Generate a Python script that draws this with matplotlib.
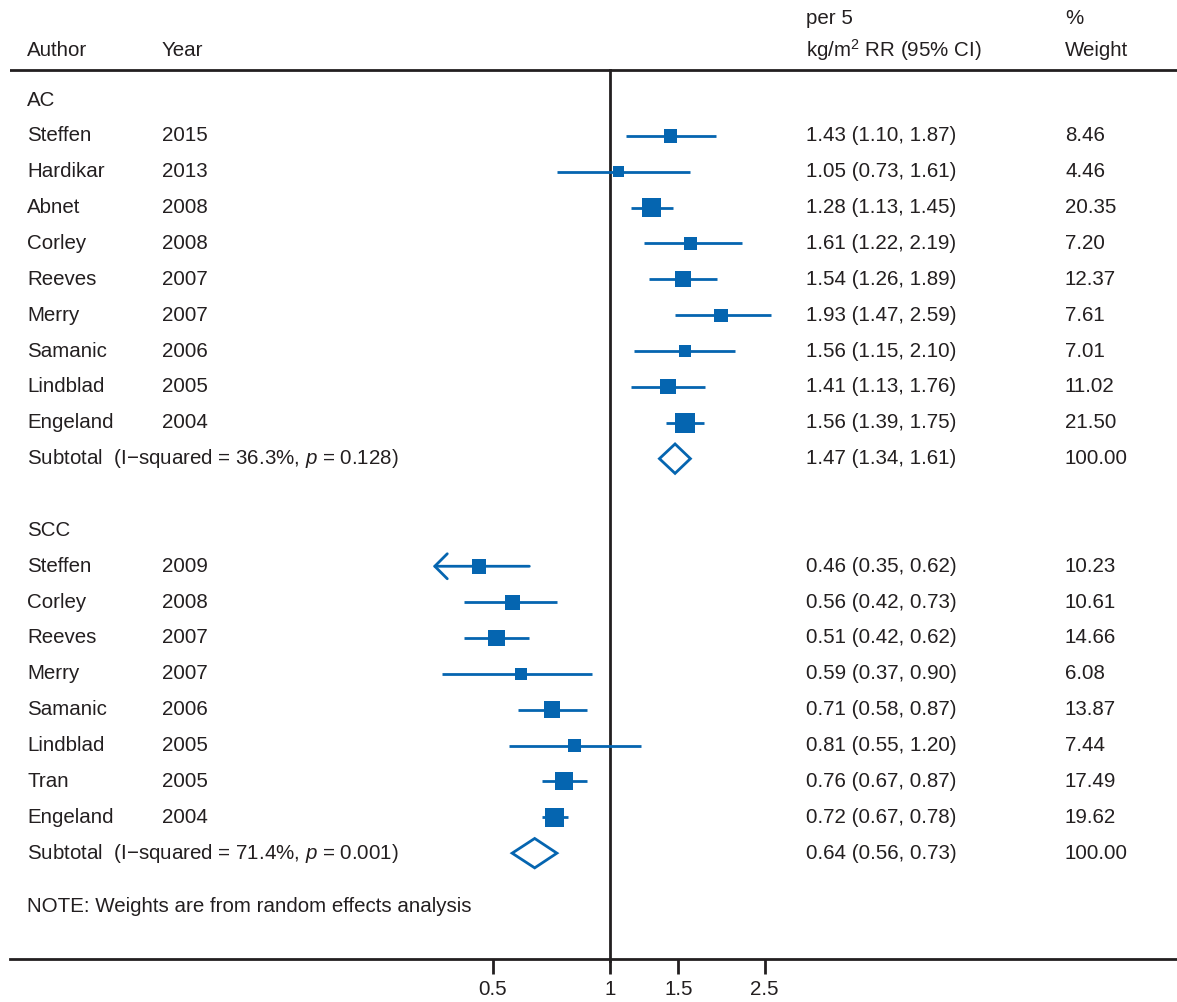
import numpy as np
import matplotlib
matplotlib.use('Agg')
import matplotlib.pyplot as plt
from matplotlib.ticker import NullLocator

plt.rcParams['font.family'] = ['Liberation Sans', 'DejaVu Sans']
plt.rcParams['mathtext.fontset'] = 'custom'
plt.rcParams['mathtext.it'] = 'Liberation Sans:italic'
plt.rcParams['mathtext.rm'] = 'Liberation Sans'

### Data
ac_author = ['Steffen', 'Hardikar', 'Abnet', 'Corley', 'Reeves', 'Merry', 'Samanic', 'Lindblad', 'Engeland']
ac_year = [2015, 2013, 2008, 2008, 2007, 2007, 2006, 2005, 2004]
ac_rr = [1.43, 1.05, 1.28, 1.61, 1.54, 1.93, 1.56, 1.41, 1.56]
ac_lo = [1.10, 0.73, 1.13, 1.22, 1.26, 1.47, 1.15, 1.13, 1.39]
ac_hi = [1.87, 1.61, 1.45, 2.19, 1.89, 2.59, 2.10, 1.76, 1.75]
ac_w = [8.46, 4.46, 20.35, 7.20, 12.37, 7.61, 7.01, 11.02, 21.50]
ac_sub = (1.47, 1.34, 1.61)
ac_het = ('36.3', '0.128')

scc_author = ['Steffen', 'Corley', 'Reeves', 'Merry', 'Samanic', 'Lindblad', 'Tran', 'Engeland']
scc_year = [2009, 2008, 2007, 2007, 2006, 2005, 2005, 2004]
scc_rr = [0.46, 0.56, 0.51, 0.59, 0.71, 0.81, 0.76, 0.72]
scc_lo = [0.35, 0.42, 0.42, 0.37, 0.58, 0.55, 0.67, 0.67]
scc_hi = [0.62, 0.73, 0.62, 0.90, 0.87, 1.20, 0.87, 0.78]
scc_w = [10.23, 10.61, 14.66, 6.08, 13.87, 7.44, 17.49, 19.62]
scc_sub = (0.64, 0.56, 0.73)
scc_het = ('71.4', '0.001')

ticks = [0.5, 1, 1.5, 2.5]
tick_labels = ['0.5', '1', '1.5', '2.5']
axis_min = 0.35  # studies below this get an arrow

blue = '#0565b0'
txt = '#231f20'
fs = 14.8

fig = plt.figure(figsize=(11.77, 10.02), dpi=100)
ax = fig.add_axes([10 / 1177, 0, 1167 / 1177, 1])
ax.set_xscale('log')
ax.set_xlim(0.02859, 28.76)
ax.set_ylim(25.15, -2.789)

# column positions in axes fraction
col_author = 17 / 1167
col_year = 152 / 1167
col_rr = 796 / 1167
col_w = 1055 / 1167
tr = ax.get_yaxis_transform()


def side_pt(w):
    return (3.15 + 3.58 * np.sqrt(w)) * 0.72


def draw_group(row0, name, authors, years, rr, lo, hi, w, sub, het):
    ax.text(col_author, row0, name, transform=tr, va='center', fontsize=fs, color=txt)
    for i in range(len(authors)):
        y = row0 + 1 + i
        ax.text(col_author, y, authors[i], transform=tr, va='center', fontsize=fs, color=txt)
        ax.text(col_year, y, str(years[i]), transform=tr, va='center', fontsize=fs, color=txt)
        ax.text(col_rr, y, f'{rr[i]:.2f} ({lo[i]:.2f}, {hi[i]:.2f})', transform=tr,
                va='center', fontsize=fs, color=txt)
        ax.text(col_w, y, f'{w[i]:.2f}', transform=tr, va='center', fontsize=fs, color=txt)
        if lo[i] <= axis_min:
            ax.annotate('', xy=(axis_min, y), xytext=(hi[i], y),
                        arrowprops=dict(arrowstyle='->,head_length=0.45,head_width=0.45',
                                        color=blue, lw=2, mutation_scale=20,
                                        shrinkA=0, shrinkB=0))
        else:
            ax.plot([lo[i], hi[i]], [y, y], color=blue, lw=2, solid_capstyle='butt')
        ax.scatter([rr[i]], [y], s=side_pt(w[i]) ** 2, marker='s', color=blue,
                   edgecolors='none', zorder=3)
    ys = row0 + 1 + len(authors)
    ax.text(col_author, ys, f'Subtotal  (I\u2212squared = {het[0]}%, $p$ = {het[1]})',
            transform=tr, va='center', fontsize=fs, color=txt)
    ax.text(col_rr, ys, f'{sub[0]:.2f} ({sub[1]:.2f}, {sub[2]:.2f})', transform=tr,
            va='center', fontsize=fs, color=txt)
    ax.text(col_w, ys, '100.00', transform=tr, va='center', fontsize=fs, color=txt)
    ax.fill([sub[1], sub[0], sub[2], sub[0]], [ys, ys - 0.41, ys, ys + 0.41],
            facecolor='white', edgecolor=blue, lw=2, zorder=3)


draw_group(0, 'AC', ac_author, ac_year, ac_rr, ac_lo, ac_hi, ac_w, ac_sub, ac_het)
draw_group(12, 'SCC', scc_author, scc_year, scc_rr, scc_lo, scc_hi, scc_w, scc_sub, scc_het)

ax.text(col_author, 22.5, 'NOTE: Weights are from random effects analysis', transform=tr,
        va='center', fontsize=fs, color=txt)

### Header
ax.text(col_author, -1.38, 'Author', transform=tr, va='center', fontsize=fs, color=txt)
ax.text(col_year, -1.38, 'Year', transform=tr, va='center', fontsize=fs, color=txt)
ax.text(col_rr, -2.27, 'per 5', transform=tr, va='center', fontsize=fs, color=txt)
ax.text(col_rr, -1.38, 'kg/m$^2$ RR (95% CI)', transform=tr, va='center', fontsize=fs, color=txt)
ax.text(col_w, -2.27, '%', transform=tr, va='center', fontsize=fs, color=txt)
ax.text(col_w, -1.38, 'Weight', transform=tr, va='center', fontsize=fs, color=txt)
ax.axhline(-0.84, color=txt, lw=2)

### Null line and axis
ax.plot([1, 1], [-0.84, 24], color=txt, lw=2, zorder=1)
for s in ['left', 'right', 'top']:
    ax.spines[s].set_visible(False)
ax.spines['bottom'].set_position(('data', 23.95))
ax.spines['bottom'].set_linewidth(2)
ax.spines['bottom'].set_color(txt)
ax.set_yticks([])
ax.xaxis.set_minor_locator(NullLocator())
ax.set_xticks(ticks)
ax.set_xticklabels(tick_labels)
ax.tick_params(axis='x', direction='out', length=11, width=2, color=txt,
               labelsize=fs, labelcolor=txt, pad=4)

fig.savefig('out.png', dpi=100)
